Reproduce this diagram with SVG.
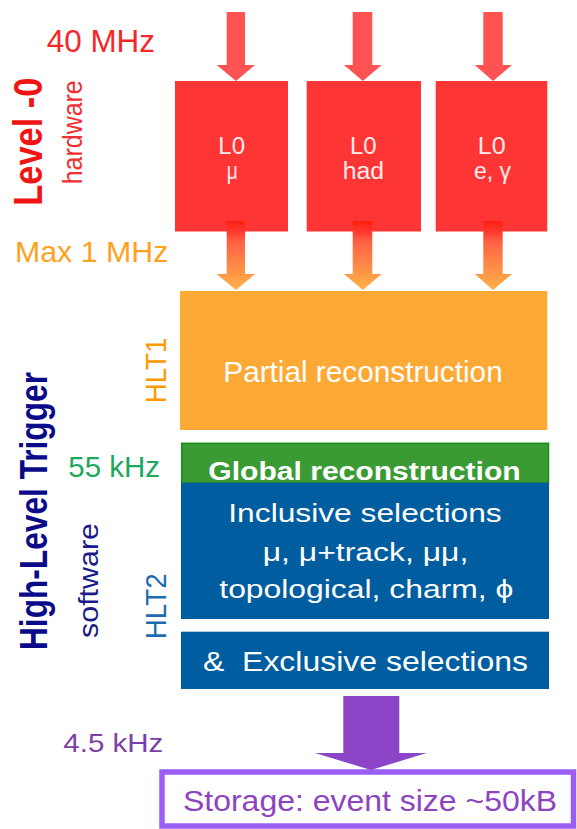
<svg xmlns="http://www.w3.org/2000/svg" width="577" height="829" viewBox="0 0 577 829">
  <defs>
    <linearGradient id="l0out" x1="0" y1="0" x2="0" y2="1">
      <stop offset="0" stop-color="#FF1E12"/>
      <stop offset="0.16" stop-color="#FF3A2E"/>
      <stop offset="0.3" stop-color="#FF6245"/>
      <stop offset="1" stop-color="#FFB347"/>
    </linearGradient>
    <style>
      text { font-family: "Liberation Sans", Arial, sans-serif; }
      .l0box { fill: #FE3535; }
      .inarrow { fill: #FF5252; }
      .outarrow { fill: url(#l0out); }
      .boxlbl { fill: #FFECEC; font-size: 23px; }
      .white { fill: #FFFFFF; }
    </style>
  </defs>

  <!-- side labels -->
  <g id="labels">
    <text x="46.7" y="51.7" font-size="31" fill="#F42828" textLength="108.3" lengthAdjust="spacingAndGlyphs">40 MHz</text>
    <text transform="translate(41.5,205.7) rotate(-90)" font-size="40" font-weight="bold" fill="#F01414" textLength="128" lengthAdjust="spacingAndGlyphs">Level -0</text>
    <text transform="translate(81.7,184.3) rotate(-90)" font-size="27" fill="#F03030" textLength="104" lengthAdjust="spacingAndGlyphs">hardware</text>
    <text x="15" y="261.7" font-size="30" fill="#FFA11F" textLength="153.3" lengthAdjust="spacingAndGlyphs">Max 1 MHz</text>
    <text transform="translate(165.7,403.3) rotate(-90)" font-size="30" fill="#FF9900" textLength="65.6" lengthAdjust="spacingAndGlyphs">HLT1</text>
    <text transform="translate(46.5,650) rotate(-90)" font-size="39" font-weight="bold" fill="#0A0A8A" textLength="278" lengthAdjust="spacingAndGlyphs">High-Level Trigger</text>
    <text x="68.3" y="476.7" font-size="29" fill="#1DA85E" textLength="91.7" lengthAdjust="spacingAndGlyphs">55 kHz</text>
    <text transform="translate(98.3,638) rotate(-90)" font-size="27" fill="#1A1A8A" textLength="115" lengthAdjust="spacingAndGlyphs">software</text>
    <text transform="translate(165.7,639.3) rotate(-90)" font-size="30" fill="#1F6BB0" textLength="66" lengthAdjust="spacingAndGlyphs">HLT2</text>
    <text x="63.3" y="751.7" font-size="25" fill="#7B3FA8" textLength="100" lengthAdjust="spacingAndGlyphs">4.5 kHz</text>
  </g>

  <!-- L0 trigger units -->
  <g id="l0-mu">
    <rect class="l0box" x="175" y="81" width="113" height="150.5"/>
    <text class="boxlbl" x="218.3" y="153.5" textLength="26.7" lengthAdjust="spacingAndGlyphs">L0</text>
    <text class="boxlbl" x="226.7" y="179.2" textLength="11" lengthAdjust="spacingAndGlyphs">μ</text>
  </g>
  <g id="l0-had">
    <rect class="l0box" x="306.7" y="81" width="114.3" height="150.5"/>
    <text class="boxlbl" x="350" y="153.5" textLength="26.7" lengthAdjust="spacingAndGlyphs">L0</text>
    <text class="boxlbl" x="342.7" y="179.2" textLength="41.3" lengthAdjust="spacingAndGlyphs">had</text>
  </g>
  <g id="l0-egamma">
    <rect class="l0box" x="435.7" y="81" width="111.6" height="150.5"/>
    <text class="boxlbl" x="477.7" y="153.5" textLength="28" lengthAdjust="spacingAndGlyphs">L0</text>
    <text class="boxlbl" x="474" y="179.2" textLength="37" lengthAdjust="spacingAndGlyphs">e, γ</text>
  </g>

  <!-- HLT1 -->
  <g id="hlt1">
    <rect x="180" y="291" width="367.3" height="139" fill="#FDA935"/>
    <text class="white" x="223.3" y="381.7" font-size="29" textLength="279.4" lengthAdjust="spacingAndGlyphs">Partial reconstruction</text>
  </g>

  <!-- HLT2 -->
  <g id="hlt2-global">
    <rect x="181.7" y="443.3" width="366.8" height="40" fill="#3A9B35" stroke="#1E8B1E" stroke-width="1.5"/>
    <text class="white" x="208.3" y="480" font-size="25.5" font-weight="bold" textLength="312.4" lengthAdjust="spacingAndGlyphs">Global reconstruction</text>
  </g>
  <g id="hlt2-inclusive">
    <rect x="181" y="482.7" width="368" height="136.3" fill="#005DA0"/>
    <text class="white" x="228.3" y="521.7" font-size="26.5" textLength="273.4" lengthAdjust="spacingAndGlyphs">Inclusive selections</text>
    <text class="white" x="262.7" y="560.5" font-size="26.5" textLength="205.6" lengthAdjust="spacingAndGlyphs">μ, μ+track, μμ,</text>
    <text class="white" x="219.3" y="598" font-size="26.5" textLength="294" lengthAdjust="spacingAndGlyphs">topological, charm, ϕ</text>
  </g>
  <g id="hlt2-exclusive">
    <rect x="181" y="631.7" width="368" height="57.3" fill="#005DA0"/>
    <text class="white" x="203" y="671" font-size="28" textLength="325" lengthAdjust="spacingAndGlyphs">&amp;&#160; Exclusive selections</text>
  </g>

  <!-- storage -->
  <g id="storage">
    <rect x="162" y="772" width="411.5" height="54" fill="#FFFFFF" stroke="#9B5EF5" stroke-width="5.5"/>
    <text x="183" y="810.5" font-size="29" fill="#8E44C0" textLength="374" lengthAdjust="spacingAndGlyphs">Storage: event size ~50kB</text>
  </g>

  <!-- flow arrows -->
  <g id="connectors">
    <polygon class="inarrow" points="226.7,12 245,12 245,65 255,65 236,81 216.7,65 226.7,65"/>
    <polygon class="inarrow" points="352.7,12 372.3,12 372.3,65 381.7,65 362.8,81 344,65 352.7,65"/>
    <polygon class="inarrow" points="483.3,12 502.7,12 502.7,65 512,65 493,81 474.7,65 483.3,65"/>

    <polygon class="outarrow" points="226.7,221 245,221 245,274 255,274 236,290 216.7,274 226.7,274"/>
    <polygon class="outarrow" points="352.7,221 372.3,221 372.3,274 381.7,274 362.8,290 344,274 352.7,274"/>
    <polygon class="outarrow" points="483.3,221 502.7,221 502.7,274 512,274 493,290 474.7,274 483.3,274"/>

    <polygon fill="#8B45C6" points="343.3,696 399.3,696 399.3,753 426.7,753 371,770 315,753 343.3,753"/>
  </g>
</svg>
